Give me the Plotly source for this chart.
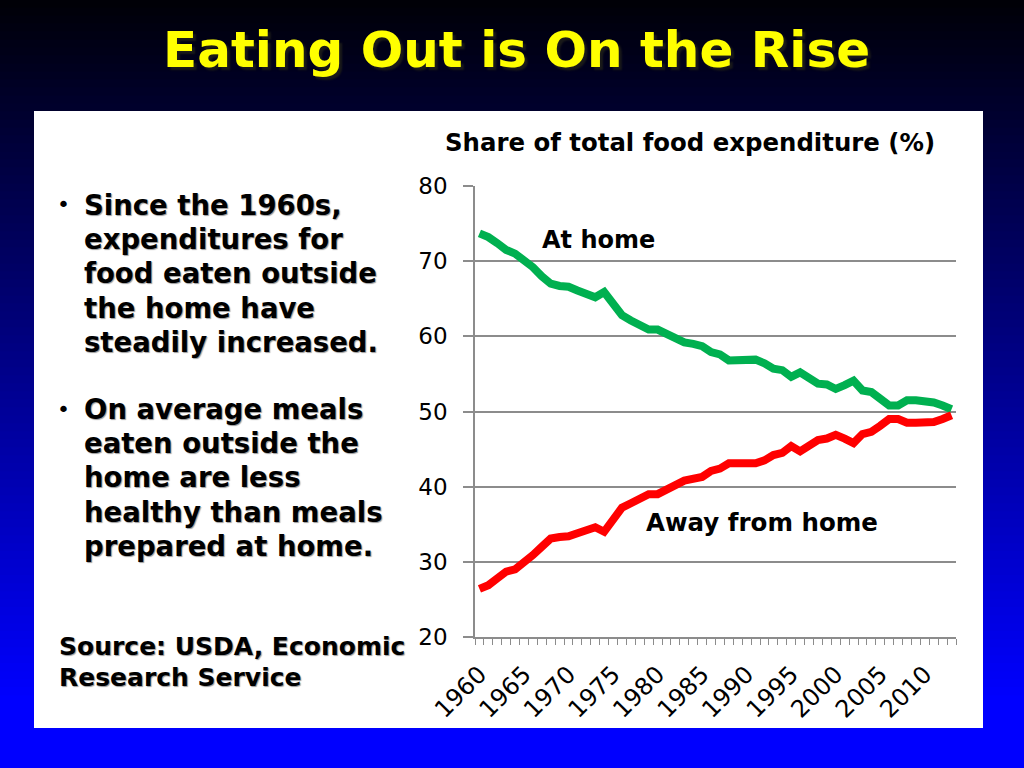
import plotly.graph_objects as go

# ---------------- data ----------------
years = list(range(1960, 2014))
at_home = [73.7, 73.2, 72.4, 71.5, 71.0, 70.2, 69.2, 68.0, 67.0, 66.7,
           66.6, 66.1, 65.7, 65.2, 65.9, 64.4, 62.8, 62.1, 61.5, 60.9,
           60.9, 60.4, 59.8, 59.2, 59.0, 58.7, 57.9, 57.6, 56.8, 56.8,
           57.0, 56.9, 56.4, 55.7, 55.5, 54.6, 55.2, 54.4, 53.7, 53.6,
           53.0, 53.5, 54.1, 52.8, 52.6, 51.7, 50.8, 50.8, 51.5, 51.5,
           51.4, 51.2, 50.8, 50.3]
away_from_home = [26.4, 26.9, 27.8, 28.7, 29.0, 29.8, 30.9, 32.0, 33.1, 33.3,
                  33.4, 33.8, 34.2, 34.6, 34.0, 35.8, 37.2, 37.8, 38.5, 39.0,
                  39.0, 39.5, 40.2, 40.8, 41.0, 41.3, 42.1, 42.4, 43.1, 43.1,
                  43.0, 43.1, 43.5, 44.2, 44.5, 45.4, 44.7, 45.6, 46.2, 46.4,
                  46.9, 46.4, 45.8, 47.0, 47.3, 48.1, 49.0, 49.0, 48.5, 48.5,
                  48.5, 48.6, 49.0, 49.5]
year_tick_labels = [1960, 1965, 1970, 1975, 1980, 1985, 1990, 1995, 2000, 2005, 2010]
y_ticks = [20, 30, 40, 50, 60, 70, 80]

title_text = "Eating Out is On the Rise"
chart_title = "Share of total food expenditure (%)"
bullet1 = ["Since the 1960s,", "expenditures for", "food eaten outside",
           "the home have", "steadily increased."]
bullet2 = ["On average meals", "eaten outside the", "home are less",
           "healthy than meals", "prepared at home."]
source_lines = ["Source: USDA, Economic", "Research Service"]

W, H = 1024, 768
FONT = "DejaVu Sans"


def px(x):
    return x / W


def py(y):
    return 1 - y / H


fig = go.Figure()
fig.add_trace(go.Scatter(x=years, y=at_home, mode="lines", name="At home",
                         line=dict(color="#00B050", width=8), hoverinfo="x+y"))
fig.add_trace(go.Scatter(x=years, y=away_from_home, mode="lines", name="Away from home",
                         line=dict(color="#FF0000", width=8), hoverinfo="x+y"))

# ---------------- background gradient ----------------
shapes = []
N = 96
for k in range(N):
    ytop = k * H / N
    ybot = (k + 1) * H / N
    t = min(1.0, ((ytop + ybot) / 2) / 700.0)
    b = int(round(6 + 249 * t))
    shapes.append(dict(type="rect", xref="paper", yref="paper", x0=0, x1=1,
                       y0=py(ybot) - 0.001, y1=py(ytop) + 0.001,
                       fillcolor=f"rgb(0,0,{b})", line=dict(width=0), layer="below"))
# white panel
shapes.append(dict(type="rect", xref="paper", yref="paper",
                   x0=px(34), x1=px(983), y0=py(728), y1=py(111),
                   fillcolor="white", line=dict(width=0), layer="below"))

annotations = []
# main title
annotations.append(dict(text=f"<b>{title_text}</b>", xref="paper", yref="paper",
                        x=px(516), y=py(50), xanchor="center", yanchor="middle",
                        showarrow=False,
                        font=dict(family=FONT, size=50, color="#FFFF00",
                                  shadow="3px 3px 2px #1a1a1a")))
# chart title
annotations.append(dict(text=f"<b>{chart_title}</b>", xref="paper", yref="paper",
                        x=px(690), y=py(142), xanchor="center", yanchor="middle",
                        showarrow=False, font=dict(family=FONT, size=24.4, color="black")))

# bullet text
text_font = dict(family=FONT, size=27.5, color="black", shadow="1px 1px 1px #9a9a9a")
for lines, y0 in ((bullet1, 204), (bullet2, 408)):
    annotations.append(dict(text="•", xref="paper", yref="paper", x=px(63), y=py(y0 + 1),
                            xanchor="center", yanchor="middle", showarrow=False,
                            font=dict(family=FONT, size=22, color="black")))
    for i, line in enumerate(lines):
        annotations.append(dict(text=f"<b>{line}</b>", xref="paper", yref="paper",
                                x=px(82), y=py(y0 + 1 + 34.2 * i),
                                xanchor="left", yanchor="middle", showarrow=False,
                                font=text_font))
for i, line in enumerate(source_lines):
    annotations.append(dict(text=f"<b>{line}</b>", xref="paper", yref="paper",
                            x=px(57), y=py(646 + 31 * i), xanchor="left", yanchor="middle",
                            showarrow=False,
                            font=dict(family=FONT, size=25, color="black",
                                      shadow="1px 1px 1px #9a9a9a")))

# series labels (data coordinates)
annotations.append(dict(text="<b>At home</b>", x=1973.4, y=72.8, xref="x", yref="y",
                        showarrow=False, xanchor="center", yanchor="middle",
                        font=dict(family=FONT, size=24, color="black")))
annotations.append(dict(text="<b>Away from home</b>", x=1991.7, y=35.2, xref="x", yref="y",
                        showarrow=False, xanchor="center", yanchor="middle",
                        font=dict(family=FONT, size=24.5, color="black")))

fig.update_layout(
    width=W, height=H, autosize=False,
    margin=dict(l=0, r=0, t=0, b=0, pad=0),
    paper_bgcolor="#0000FF", plot_bgcolor="rgba(0,0,0,0)",
    showlegend=False, shapes=shapes, annotations=annotations,
    xaxis=dict(domain=[px(475), px(956)], range=[1959.5, 2013.5], automargin=False,
               tickmode="array", tickvals=year_tick_labels,
               ticktext=[str(v) for v in year_tick_labels],
               tickangle=-45, ticks="", showgrid=False, zeroline=False,
               showline=True, linecolor="#8c8c8c", linewidth=1.5,
               ticklabelstandoff=12,
               tickfont=dict(family=FONT, size=24, color="black"),
               minor=dict(tickmode="linear", tick0=1959.5, dtick=1, ticks="outside",
                          ticklen=6, tickcolor="#8c8c8c", tickwidth=1.2, showgrid=False)),
    yaxis=dict(domain=[py(637), py(186)], range=[20, 80], automargin=False,
               tickmode="array", tickvals=y_ticks, ticks="outside", ticklen=10,
               tickcolor="#8c8c8c", tickwidth=1.5,
               showgrid=True, gridcolor="#8c8c8c", gridwidth=1.5, zeroline=False,
               showline=True, linecolor="#8c8c8c", linewidth=1.5,
               ticklabelstandoff=11,
               tickfont=dict(family=FONT, size=23, color="black")),
)

fig.write_html("out.html", config={"displayModeBar": False},
               post_script="document.body.style.margin='0';document.body.style.overflow='hidden';")
